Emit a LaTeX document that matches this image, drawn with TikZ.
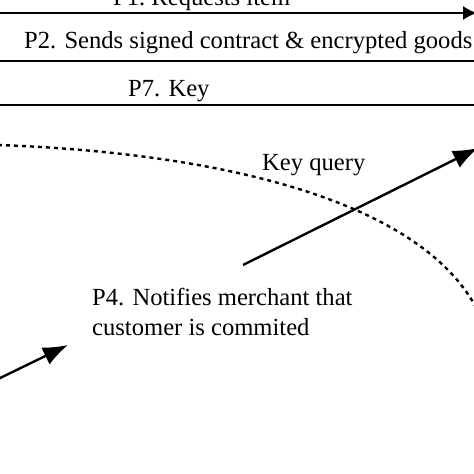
\documentclass[tikz,border=0pt]{standalone}
\usepackage{fontspec}
\setmainfont{Liberation Serif}
\usepackage{tikz}
\usetikzlibrary{positioning,calc,arrows.meta}
\tikzset{
	msg/.style={line width=1.8pt},
	msgfl/.style={line width=1.8pt,-{Latex[length=14pt,width=14pt]}},
	fleche/.style={line width=2.4pt,-{Latex[length=25pt,width=19pt]}},
	pointille/.style={line width=2.4pt,dash pattern=on 4pt off 4pt},
	lbl/.style={font=\fontsize{24.6}{29.5}\selectfont,inner sep=0pt,anchor=base west,align=left}
}

\begin{document}
\begin{tikzpicture}[x=1pt,y=-1pt]
				\def\largeur{474}
				\def\hauteur{474}
				\useasboundingbox (0,0) rectangle (\largeur,\hauteur);
				\clip (0,0) rectangle (\largeur,\hauteur); % coupe l'image
				
				%Extremites des messages horizontaux
				\coordinate (A) at (-2,13);
				\coordinate (B) at (\largeur+3,13);
				\coordinate (C) at (-2,61);
				\coordinate (D) at (\largeur+2,61);
				\coordinate (E) at (-2,105);
				\coordinate (F) at (\largeur+2,105);
				
				%Extremites des fleches obliques
				\coordinate (G) at (243,265);
				\coordinate (H) at (478,148);
				\coordinate (I) at (-4,380);
				\coordinate (J) at (68,345);
				
				%Courbe pointillee
				\coordinate (K) at (-2,145);
				\coordinate (L) at (486,330);
				
				%Messages
				\draw[msgfl] (A) -- (B);
				\draw[msg] (C) -- (D);
				\draw[msg] (E) -- (F);
				
				\node[lbl] (p1) at (113,5) {P1.\ Requests item};
				\node[lbl] (p2) at (24,48) {P2. Sends signed contract \& encrypted goods};
				\node[lbl] (p7) at (128,96) {P7. Key};
				
				%Frontiere
				\draw[pointille] (K) .. controls (200,152) and (440,195) .. (L);
				
				%Fleches
				\draw[fleche] (G) -- (H);
				\node[lbl] (kq) at (262,170) {Key query};
				
				\draw[fleche] (I) -- (J);
				\node[lbl] (p4) at (92,335) {P4. Notifies merchant that\\customer is commited};
				
			\end{tikzpicture}
\end{document}
